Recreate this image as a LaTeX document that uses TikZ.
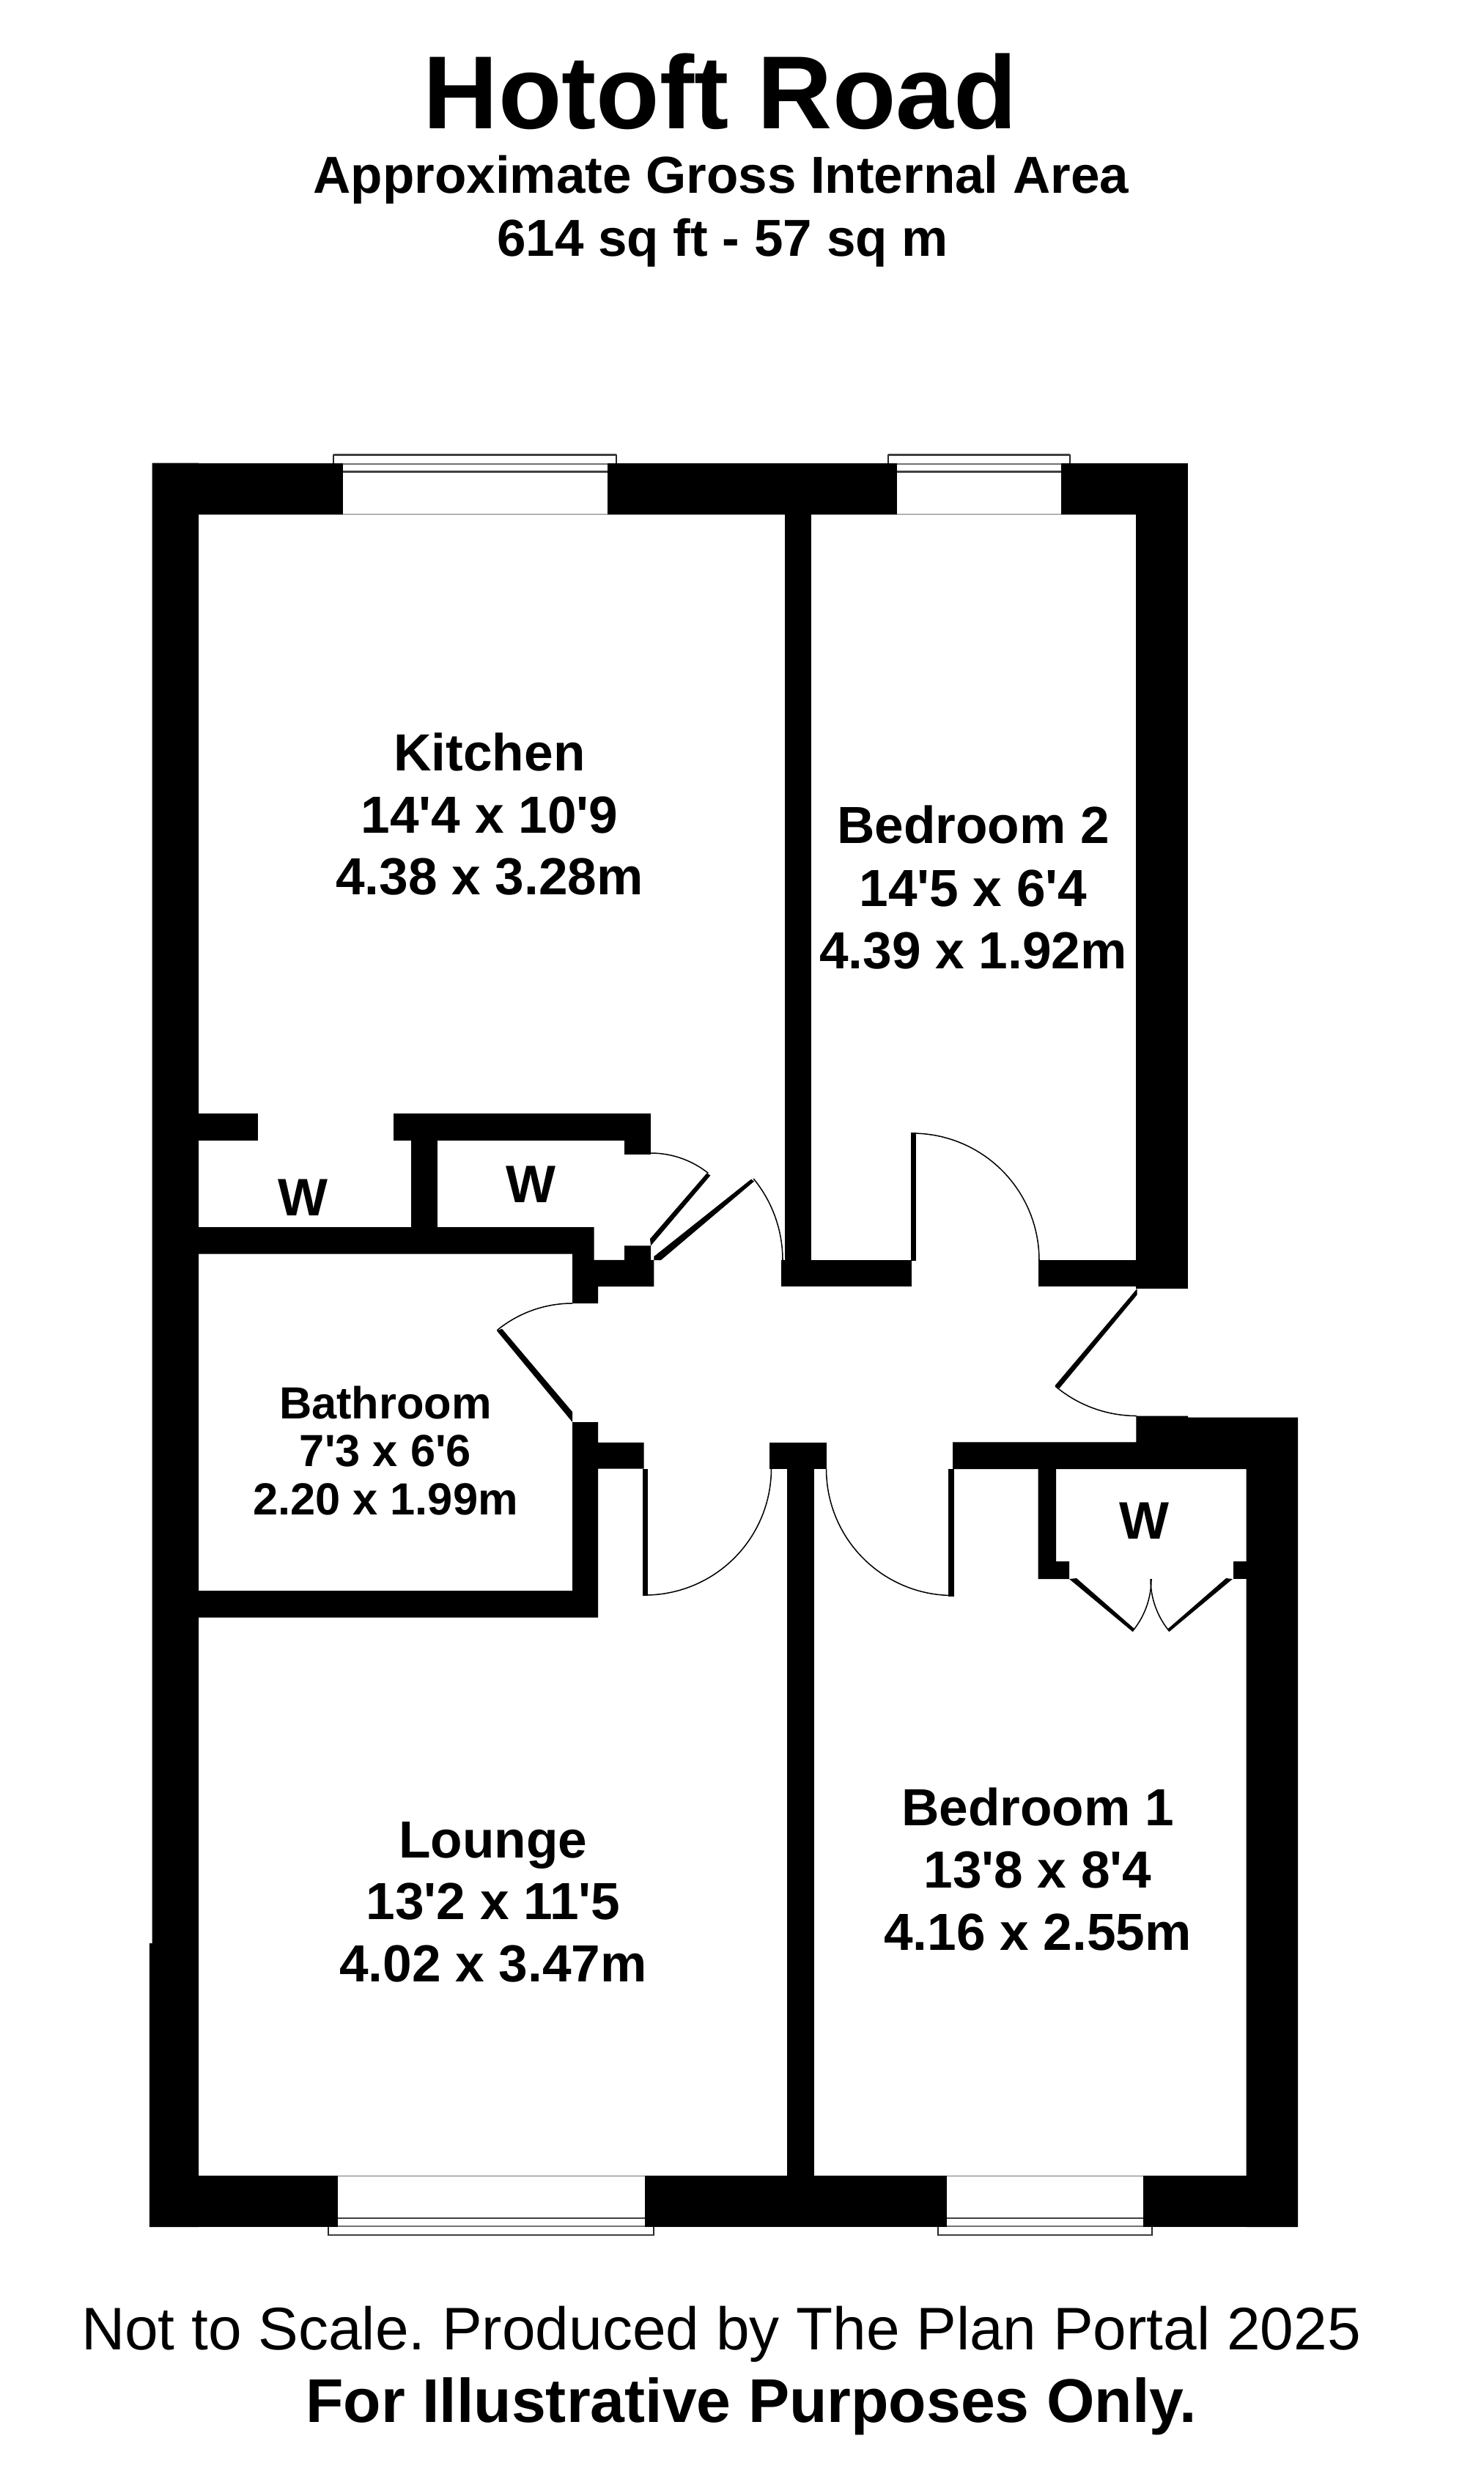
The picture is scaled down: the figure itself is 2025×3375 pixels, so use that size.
\documentclass[tikz,border=0pt]{standalone}
\usepackage{fontspec}
\newfontfamily\planfont{Liberation Sans}
\newcommand{\pfs}[1]{\fontsize{#1pt}{#1pt}\selectfont}
\frenchspacing
\tikzset{
  wall/.style={fill=black,draw=none},
  leaf/.style={fill=black,draw=none},
  swing/.style={draw=black,line width=0.38pt},
  frameline/.style={draw=black!85,line width=0.5pt},
  sill/.style={draw=black!75,line width=0.7pt},
  edge/.style={draw=black!55,line width=0.4pt},
  lbl/.style={inner sep=0pt,outer sep=0pt,anchor=base,text=black,font=\planfont\bfseries\pfs{17.8}},
  bath/.style={lbl,font=\planfont\bfseries\pfs{15.35}},
  wlbl/.style={lbl,font=\planfont\bfseries\pfs{18}}
}
\newcommand{\doorarc}[5]{\draw[swing] plot[domain=#4:#5,samples=40] ({#1+#3*cos(\x)},{#2+#3*sin(\x)});}
\begin{document}
\begin{tikzpicture}[x=0.25pt,y=-0.25pt]
\useasboundingbox (0,0) rectangle (2025,3375);
\fill[white] (0,0) rectangle (2025,3375);

% outer top wall
\fill[wall] (207.6,631.7) rectangle (468,702);
\fill[wall] (829,631.7) rectangle (1224,702);
\fill[wall] (1448,631.7) rectangle (1621,702);
% left wall with its small step
\fill[wall] (207.6,631.7) -- (271,631.7) -- (271,3038) -- (203.8,3038) -- (203.8,2651) -- (207.6,2651) -- cycle;
% upper partition and right wall
\fill[wall] (1071,702) rectangle (1106.7,1755);
\fill[wall] (1550.4,631.7) rectangle (1621,1758);
\fill[wall] (1065.5,1719.4) rectangle (1244,1755);
\fill[wall] (1417,1719.4) rectangle (1550.4,1755);
% lower right block
\fill[wall] (1550.4,1931.6) -- (1621,1931.6) -- (1621,1933.7) -- (1771,1933.7) -- (1771,3038) -- (1700.7,3038) -- (1700.7,2004) -- (1300,2004) -- (1300,1967.3) -- (1550.4,1967.3) -- cycle;
% wardrobe of bedroom 1
\fill[wall] (1416.6,2004) -- (1441,2004) -- (1441,2130) -- (1459,2130) -- (1459,2154) -- (1416.6,2154) -- cycle;
\fill[wall] (1682.8,2130) rectangle (1700.7,2154);
% bottom wall
\fill[wall] (203.8,2967.7) rectangle (461,3038);
\fill[wall] (880,2967.7) rectangle (1291.6,3038);
\fill[wall] (1560,2967.7) rectangle (1771,3038);
% lower partition
\fill[wall] (1074,2004) rectangle (1111,2967.7);
\fill[wall] (1050.4,1967.5) rectangle (1127.6,2004);
% wardrobes of the kitchen
\fill[wall] (271,1519) rectangle (352.4,1555.5);
\fill[wall] (536.7,1519) rectangle (888,1555.5);
\fill[wall] (561,1555.5) rectangle (597,1674);
\fill[wall] (852,1555.5) rectangle (888,1575);
% bathroom walls
\fill[wall] (271,1674) -- (810.6,1674) -- (810.6,1718.8) -- (852,1718.8) -- (852,1699.4) -- (888,1699.4) -- (888,1718.8) -- (892.4,1718.8) -- (892.4,1755) -- (816,1755) -- (816,1778) -- (781,1778) -- (781,1710.6) -- (271,1710.6) -- cycle;
\fill[wall] (781,1940) -- (816,1940) -- (816,1967.8) -- (878.5,1967.8) -- (878.5,2003.5) -- (816,2003.5) -- (816,2206.5) -- (271,2206.5) -- (271,2170) -- (781,2170) -- cycle;

% windows
\draw[frameline] (454.6,631.7) -- (454.6,620.7) -- (841,620.7) -- (841,631.7);
\draw[sill] (454.6,620.7) -- (841,620.7);
\draw[sill] (468,643.7) -- (829,643.7);
\draw[edge] (468,632.7) -- (829,632.7);
\draw[edge] (468,701.5) -- (829,701.5);
\draw[frameline] (1211.6,631.7) -- (1211.6,620.7) -- (1460,620.7) -- (1460,631.7);
\draw[sill] (1211.6,620.7) -- (1460,620.7);
\draw[sill] (1224,643.7) -- (1448,643.7);
\draw[edge] (1224,632.7) -- (1448,632.7);
\draw[edge] (1224,701.5) -- (1448,701.5);
\draw[frameline] (447.6,3038) -- (447.6,3049) -- (891.8,3049) -- (891.8,3038);
\draw[sill] (447.6,3049) -- (891.8,3049);
\draw[sill] (461,3026) -- (880,3026);
\draw[edge] (461,3037) -- (880,3037);
\draw[edge] (461,2968.5) -- (880,2968.5);
\draw[frameline] (1280,3038) -- (1280,3049) -- (1571.5,3049) -- (1571.5,3038);
\draw[sill] (1280,3049) -- (1571.5,3049);
\draw[sill] (1291.6,3026) -- (1560,3026);
\draw[edge] (1291.6,3037) -- (1560,3037);
\draw[edge] (1291.6,2968.5) -- (1560,2968.5);

% door leaves
\fill[leaf] (887,1690) -- (964.5,1600.4) -- (969.4,1603.5) -- (888,1699.4) -- cycle;
\fill[leaf] (892.4,1714) -- (1025,1608.6) -- (1029,1611.6) -- (902,1719) -- (892.4,1719) -- cycle;
\fill[leaf] (678,1815.5) -- (685,1812.7) -- (781,1926) -- (781,1940) -- cycle;
\fill[leaf] (877,2003.5) rectangle (884,2177);
\fill[leaf] (1243,1545) rectangle (1249.5,1720);
\fill[leaf] (1294,2004) rectangle (1301.7,2177.5);
\fill[leaf] (1551.5,1758) -- (1551.5,1766.5) -- (1445.5,1894) -- (1439.5,1890.3) -- cycle;
\fill[leaf] (1459,2154) -- (1469,2153) -- (1548,2222) -- (1545,2225.5) -- cycle;
\fill[leaf] (1682,2154) -- (1673,2153) -- (1593.7,2222) -- (1596,2225.5) -- cycle;

% door swings
\doorarc{888}{1699}{126}{-90}{-51.5}
\doorarc{893}{1719}{175}{-39.4}{0}
\doorarc{781}{1940}{162}{-129.3}{-90}
\doorarc{880}{2003.5}{172.5}{0}{90}
\doorarc{1245}{1719}{173}{-90}{0}
\doorarc{1300}{2004}{172.5}{90}{180}
\doorarc{1551}{1759}{172.5}{90}{130}
\doorarc{1459}{2154}{112}{0}{39.7}
\doorarc{1682}{2154}{112}{140.3}{180}

% heading
\node[lbl,font=\planfont\bfseries\pfs{35.4}] (title) at (983,175) {Hotoft Road};
\node[lbl,font=\planfont\bfseries\pfs{17.75}] (sub1) at (984,263) {Approximate Gross Internal Area};
\node[lbl,font=\planfont\bfseries\pfs{17.75}] (sub2) at (986,349) {614 sq ft - 57 sq m};

% rooms
\node[lbl] (kit1) at (668,1051) {Kitchen};
\node[lbl] (kit2) at (668,1136) {14'4 x 10'9};
\node[lbl] (kit3) at (668,1220.7) {4.38 x 3.28m};
\node[lbl] (bedb1) at (1328,1150.7) {Bedroom 2};
\node[lbl] (bedb2) at (1328,1236) {14'5 x 6'4};
\node[lbl] (bedb3) at (1328,1321) {4.39 x 1.92m};
\node[bath] (bath1) at (526,1935.6) {Bathroom};
\node[bath] (bath2) at (526,2000.4) {7'3 x 6'6};
\node[bath] (bath3) at (526,2066) {2.20 x 1.99m};
\node[lbl] (lng1) at (673,2534) {Lounge};
\node[lbl] (lng2) at (673,2618.7) {13'2 x 11'5};
\node[lbl] (lng3) at (673,2703) {4.02 x 3.47m};
\node[lbl] (beda1) at (1416,2490.7) {Bedroom 1};
\node[lbl] (beda2) at (1416,2575.7) {13'8 x 8'4};
\node[lbl] (beda3) at (1416,2660.7) {4.16 x 2.55m};
\node[wlbl] (w1) at (413,1658.6) {W};
\node[wlbl] (w2) at (724.5,1640.7) {W};
\node[wlbl] (w3) at (1561,2099) {W};

% footer
\node[lbl,font=\planfont\pfs{20.5}] (foot1) at (984,3205) {Not to Scale. Produced by The Plan Portal 2025};
\node[lbl,font=\planfont\bfseries\pfs{21.05}] (foot2) at (1025,3304.7) {For Illustrative Purposes Only.};
\end{tikzpicture}
\end{document}
